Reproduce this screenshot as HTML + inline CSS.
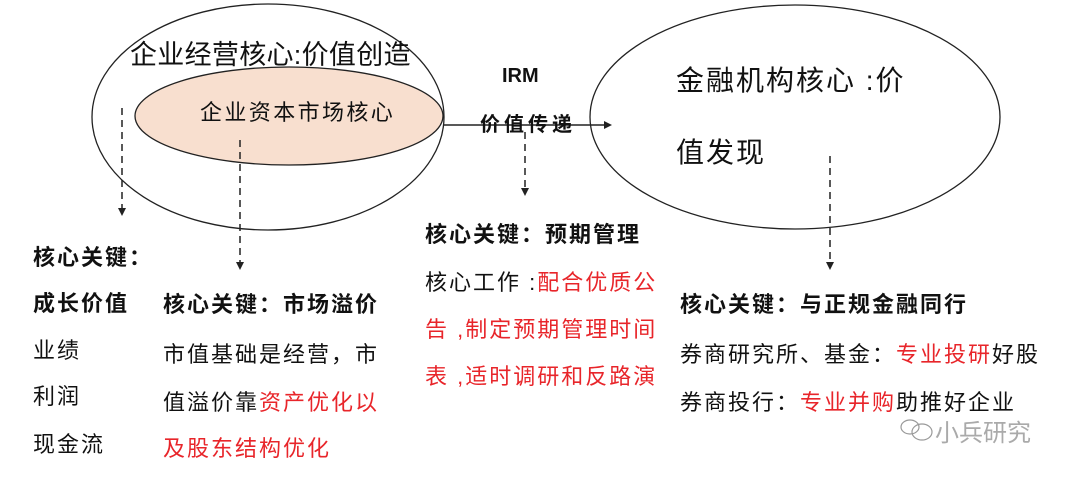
<!DOCTYPE html>
<html><head><meta charset="utf-8"><style>
html,body{margin:0;padding:0;background:#fff;width:1080px;height:478px;overflow:hidden}
svg text{font-family:"Liberation Sans","Noto Sans CJK SC",sans-serif}
.b{font-weight:bold}
.r{fill:#e8252a}
</style></head><body>
<svg width="1080" height="478" viewBox="0 0 1080 478">
<defs><marker id="a" markerWidth="8" markerHeight="8" refX="4" refY="4" orient="auto" markerUnits="userSpaceOnUse"><path d="M0,0 L8,4 L0,8z" fill="#222"/></marker></defs>
<ellipse cx="268" cy="117" rx="176" ry="113" fill="none" stroke="#222" stroke-width="1.3"/>
<ellipse cx="289" cy="116" rx="154" ry="49" fill="#f8dfcf" stroke="#222" stroke-width="1.3"/>
<ellipse cx="795" cy="117" rx="205" ry="112" fill="none" stroke="#222" stroke-width="1.3"/>
<line x1="443" y1="125" x2="608" y2="125" stroke="#222" stroke-width="1.5" marker-end="url(#a)"/>
<g stroke="#222" stroke-width="1.5" stroke-dasharray="7,5" fill="none">
<line x1="122" y1="108" x2="122" y2="212" marker-end="url(#a)"/>
<line x1="240" y1="140" x2="240" y2="266" marker-end="url(#a)"/>
<line x1="525" y1="132" x2="525" y2="192" marker-end="url(#a)"/>
<line x1="830" y1="156" x2="830" y2="266" marker-end="url(#a)"/>
</g>
<text x="130" y="64" font-size="27" letter-spacing="0.3" fill="#111">企业经营核心:价值创造</text>
<text x="200" y="120" font-size="22" letter-spacing="2.4" fill="#111">企业资本市场核心</text>
<text x="502" y="82" font-size="20" class="b" fill="#111">IRM</text>
<text x="480" y="131" font-size="20" letter-spacing="4" class="b" fill="#111">价值传递</text>
<text x="676" y="90" font-size="28" letter-spacing="2" fill="#111">金融机构核心 :价</text>
<text x="676" y="162" font-size="28" letter-spacing="2" fill="#111">值发现</text>
<g font-size="22" fill="#111" letter-spacing="2">
<text x="33" y="265" class="b">核心关键：</text>
<text x="33" y="311" class="b">成长价值</text>
<text x="33" y="358">业绩</text>
<text x="33" y="404">利润</text>
<text x="33" y="452">现金流</text>
<text x="163" y="312" class="b">核心关键：市场溢价</text>
<text x="163" y="362">市值基础是经营，市</text>
<text x="163" y="410">值溢价靠<tspan class="r">资产优化以</tspan></text>
<text x="163" y="456" class="r">及股东结构优化</text>
<text x="425" y="242" class="b">核心关键：预期管理</text>
<text x="425" y="290">核心工作 :<tspan class="r">配合优质公</tspan></text>
<text x="425" y="337" class="r">告 ,制定预期管理时间</text>
<text x="425" y="384" class="r">表 ,适时调研和反路演</text>
<text x="680" y="312" class="b">核心关键：与正规金融同行</text>
<text x="680" y="362">券商研究所、基金：<tspan class="r">专业投研</tspan>好股</text>
<text x="680" y="410">券商投行：<tspan class="r">专业并购</tspan>助推好企业</text>
</g>
<g fill="none" stroke="#999" stroke-width="1.2">
<ellipse cx="910" cy="427" rx="9" ry="7"/><ellipse cx="922" cy="432" rx="10" ry="8"/>
</g>
<text x="935" y="441" font-size="24" fill="#aaa">小兵研究</text>
</svg>
</body></html>
